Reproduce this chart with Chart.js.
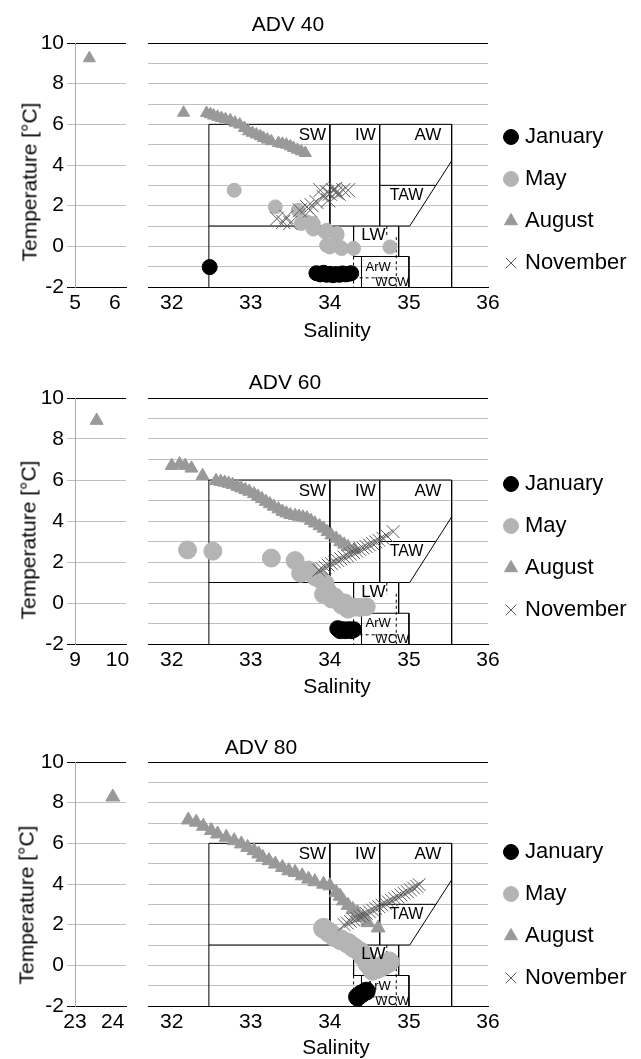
<!DOCTYPE html>
<html>
<head>
<meta charset="utf-8">
<script src="https://cdn.jsdelivr.net/npm/chart.js@4.4.1/dist/chart.umd.min.js"></script>
<style>
  body { margin: 0; background: #fff; font-family: Arial, 'Liberation Sans', sans-serif; }
  #page { position: relative; width: 641px; height: 1059px; overflow: hidden; }
  #page canvas { position: absolute; }
  .lbl { position: absolute; font-size: 21px; line-height: 1; color: #000; white-space: nowrap; transform: translate(-50%, -50%); }
  .lbl.rot { transform: translate(-50%, -50%) rotate(-90deg); }
</style>
</head>
<body>
<div id="page"></div>
<script>
const FONT = "Arial, 'Liberation Sans', sans-serif";
Chart.defaults.font.family = FONT;
Chart.defaults.color = '#000';

// [salinity, temperature] pairs
const adv40January = [[32.48,-1.02],[33.83,-1.32],[33.88,-1.38],[33.92,-1.3],[33.96,-1.4],[34.0,-1.35],[34.04,-1.42],[34.08,-1.36],[34.12,-1.4],[34.16,-1.33],[34.2,-1.38],[34.24,-1.35],[34.27,-1.32]];
const adv40May = [[32.79,2.76],[33.31,1.94],[33.6,1.77],[33.64,1.12],[33.71,1.2],[33.79,1.12],[33.79,0.85],[33.94,0.71],[33.96,0.79],[34.09,0.54],[34.09,0.63],[33.96,0.05],[34.0,-0.03],[34.13,-0.05],[34.15,-0.11],[34.3,-0.1],[34.76,-0.03]];
const adv40August = [[5.36,9.25],[32.15,6.57],[32.44,6.56],[32.49,6.5],[32.53,6.43],[32.58,6.37],[32.63,6.31],[32.68,6.25],[32.74,6.2],[32.8,6.08],[32.86,5.99],[32.92,5.82],[32.97,5.66],[33.02,5.58],[33.07,5.5],[33.12,5.42],[33.16,5.33],[33.21,5.25],[33.26,5.17],[33.35,5.08],[33.4,5.04],[33.45,5.0],[33.5,4.92],[33.54,4.84],[33.59,4.75],[33.64,4.67],[33.69,4.59]];
const adv40November = [[33.33,1.36],[33.41,1.2],[33.45,1.44],[33.5,1.15],[33.62,1.77],[33.71,1.94],[33.75,1.77],[33.77,2.02],[33.83,2.18],[33.88,2.76],[33.92,2.43],[33.96,2.67],[33.98,2.26],[34.0,2.59],[34.04,2.76],[34.07,2.82],[34.08,2.65],[34.11,2.59],[34.17,2.76],[34.23,2.76]];

const adv60January = [[34.1,-1.25],[34.13,-1.35],[34.17,-1.3],[34.2,-1.35],[34.24,-1.3],[34.27,-1.35],[34.3,-1.3]];
const adv60May = [[32.2,2.59],[32.52,2.53],[33.26,2.19],[33.56,2.07],[33.63,1.45],[33.68,1.55],[33.73,1.61],[33.81,1.29],[33.86,1.2],[33.9,1.1],[33.94,0.95],[33.92,0.42],[33.97,0.6],[34.02,0.2],[34.06,0.3],[34.1,0.12],[34.15,-0.1],[34.19,0.0],[34.23,-0.3],[34.31,-0.2],[34.38,-0.22],[34.46,-0.18]];
const adv60August = [[9.51,8.9],[32.0,6.7],[32.1,6.78],[32.17,6.7],[32.25,6.57],[32.39,6.21],[32.56,5.96],[32.62,5.92],[32.67,5.88],[32.72,5.83],[32.77,5.77],[32.83,5.68],[32.88,5.6],[32.93,5.52],[32.98,5.44],[33.04,5.32],[33.09,5.2],[33.14,5.08],[33.19,4.95],[33.24,4.83],[33.29,4.71],[33.35,4.58],[33.4,4.46],[33.45,4.38],[33.5,4.3],[33.56,4.26],[33.61,4.22],[33.66,4.18],[33.71,4.14],[33.76,4.02],[33.81,3.89],[33.87,3.76],[33.92,3.64],[33.97,3.47],[34.02,3.31],[34.08,3.15],[34.13,2.98],[34.18,2.86],[34.23,2.74],[34.31,2.62]];
const adv60November = [[33.86,1.6],[33.9,1.68],[33.94,1.75],[33.98,1.84],[34.02,1.92],[34.06,2.0],[34.1,2.07],[34.14,2.15],[34.18,2.24],[34.22,2.31],[34.26,2.38],[34.3,2.46],[34.34,2.53],[34.38,2.6],[34.42,2.68],[34.46,2.75],[34.5,2.83],[34.54,2.9],[34.58,2.98],[34.62,3.06],[34.67,3.16],[34.72,3.28],[34.8,3.48]];

const adv80January = [[34.35,-1.55],[34.4,-1.4],[34.46,-1.27]];
const adv80May = [[33.92,1.82],[33.99,1.62],[34.06,1.41],[34.14,1.25],[34.23,1.08],[34.3,0.88],[34.38,0.67],[34.43,0.4],[34.48,0.09],[34.54,-0.24],[34.6,-0.15],[34.65,-0.07],[34.7,0.05],[34.75,0.17]];
const adv80August = [[24.0,8.28],[32.21,7.15],[32.31,7.04],[32.4,6.84],[32.5,6.63],[32.58,6.46],[32.69,6.3],[32.79,6.13],[32.88,5.97],[32.96,5.8],[33.04,5.64],[33.1,5.48],[33.15,5.31],[33.23,5.15],[33.31,4.98],[33.4,4.81],[33.48,4.65],[33.56,4.57],[33.65,4.4],[33.73,4.24],[33.81,4.11],[33.92,3.99],[34.0,3.91],[34.08,3.58],[34.13,3.4],[34.17,3.17],[34.23,2.95],[34.29,2.75],[34.35,2.59],[34.42,2.35],[34.48,2.1],[34.61,1.84]];
const adv80November = [[34.18,2.0],[34.22,2.08],[34.26,2.16],[34.3,2.24],[34.34,2.31],[34.38,2.4],[34.42,2.47],[34.46,2.56],[34.5,2.63],[34.54,2.72],[34.58,2.8],[34.62,2.88],[34.66,2.96],[34.7,3.04],[34.74,3.12],[34.78,3.2],[34.82,3.29],[34.86,3.37],[34.9,3.46],[34.94,3.54],[34.98,3.62],[35.02,3.71],[35.06,3.8],[35.1,3.88],[35.13,3.97]];

const monthNames = ['January', 'May', 'August', 'November'];
const monthColors = ['#000000', '#b4b4b4', '#999999', '#595959'];
const monthStyles = ['circle', 'circle', 'triangle', 'crossRot'];

// water mass boundaries as [S1, T1, S2, T2]
const massLines = [
  [32.47,-2, 32.47,6], [32.47,6, 35.54,6], [35.54,6, 35.54,-2],
  [32.47,1, 35.01,1], [34.0,6, 34.0,1], [34.63,6, 34.63,1],
  [34.63,3, 35.34,3], [35.01,1, 35.54,4.2],
  [34.3,1, 34.3,-0.5], [34.87,1, 34.87,-0.5], [34.3,-0.5, 35.0,-0.5],
  [34.4,-0.5, 34.4,-2], [35.0,-0.5, 35.0,-2]
];
const massDashed = [
  [34.3,-0.5, 34.3,-2], [34.72,1, 34.72,0.4], [34.84,0.45, 34.84,-2], [34.3,-1.55, 34.84,-1.55]
];
const massNames = ['SW', 'IW', 'AW', 'TAW', 'LW', 'ArW', 'WCW'];
const massSalinity = [33.78, 34.45, 35.24, 34.97, 34.55, 34.61, 34.79];
const massTemp = [5.45, 5.45, 5.45, 2.5, 0.54, -1.02, -1.79];
const massFont = [17, 17, 17, 16, 17, 13, 13];

const panels = [
  { title: 'ADV 40', months: [adv40January, adv40May, adv40August, adv40November], leftRange: [5, 6.28],
    radius: [7.5, 7, 7, 10], top: 43, height: 244, legendGap: 63, titleAt: [288, 23], yTitleAt: [29, 182], xTitleAt: [337, 329] },
  { title: 'ADV 60', months: [adv60January, adv60May, adv60August, adv60November], leftRange: [9, 10.2],
    radius: [8, 9, 7.5, 9], top: 398, height: 246, legendGap: 55, titleAt: [285, 381], yTitleAt: [28, 540], xTitleAt: [337, 685] },
  { title: 'ADV 80', months: [adv80January, adv80May, adv80August, adv80November], leftRange: [23, 24.35],
    radius: [9, 10, 8, 9], top: 762, height: 244, legendGap: 59, titleAt: [261, 746], yTitleAt: [26, 905], xTitleAt: [336, 1046] }
];

const page = document.getElementById('page');

function toPoints(pairs){ return pairs.map(([x, y]) => ({x, y})); }
function segPoints(segs){
  const pts = [];
  segs.forEach(([x1, y1, x2, y2]) => pts.push({x:x1, y:y1}, {x:x2, y:y2}, {x:null, y:null}));
  return pts;
}
function gridColor(c){
  return c.tick && (c.tick.value === 10 || c.tick.value === -2) ? '#000' : '#bfbfbf';
}
function addCanvas(left, top, w, h){
  const cv = document.createElement('canvas');
  cv.width = w; cv.height = h;
  cv.style.left = left + 'px'; cv.style.top = top + 'px';
  page.appendChild(cv);
  return cv;
}
function addText(txt, [cx, cy], rotate){
  const d = document.createElement('div');
  d.className = rotate ? 'lbl rot' : 'lbl';
  d.textContent = txt;
  d.style.left = cx + 'px'; d.style.top = cy + 'px';
  page.appendChild(d);
}
// shift the plot edges to given canvas x positions via the layout padding
function pinArea(chart, left, right){
  const pad = chart.config.options.layout.padding;
  const dl = left - chart.chartArea.left;
  const dr = chart.chartArea.right - right;
  if (Math.abs(dl) > 0.1 || Math.abs(dr) > 0.1){
    pad.left += dl;
    pad.right += dr;
    chart.update();
  }
}
function monthSets(p){
  return p.months.map((pairs, i) => ({
    label: monthNames[i],
    data: toPoints(pairs),
    pointStyle: monthStyles[i],
    backgroundColor: monthColors[i],
    borderColor: monthColors[i],
    borderWidth: 1,
    pointRadius: p.radius[i],
    order: 4 - i
  }));
}

const massLabelPlugin = {
  id: 'massLabels',
  afterDatasetsDraw(chart){
    const {ctx, scales:{x, y}} = chart;
    ctx.save();
    ctx.fillStyle = '#000';
    ctx.textAlign = 'center';
    ctx.textBaseline = 'middle';
    massNames.forEach((name, i) => {
      ctx.font = massFont[i] + 'px ' + FONT;
      ctx.fillText(name, x.getPixelForValue(massSalinity[i]), y.getPixelForValue(massTemp[i]));
    });
    ctx.restore();
  }
};

panels.forEach(p => {
  const leftCanvas = addCanvas(0, p.top - 14, 130, p.height + 54);
  const mainCanvas = addCanvas(148, p.top - 10, 493, p.height + 50);

  const left = new Chart(leftCanvas, {
    type: 'scatter',
    data: { datasets: monthSets(p) },
    options: {
      responsive: false, animation: false, events: [],
      layout: { autoPadding: false, padding: { top: 14, right: 4, left: 0, bottom: 0 } },
      plugins: { legend: { display: false }, tooltip: { enabled: false } },
      scales: {
        x: {
          min: p.leftRange[0], max: p.leftRange[1],
          ticks: { stepSize: 1, includeBounds: false, font: { size: 21 }, padding: 4, maxRotation: 0 },
          grid: { display: false, drawTicks: false },
          border: { color: '#000' },
          afterFit: s => { s.height = 40; s.paddingLeft = 0; s.paddingRight = 0; }
        },
        y: {
          min: -2, max: 10,
          ticks: { stepSize: 1, includeBounds: false, font: { size: 21 }, padding: 3, callback: v => v % 2 === 0 ? v : '' },
          grid: { color: gridColor, tickLength: 8 },
          border: { color: '#aaa' },
          afterFit: s => { s.width = 75; s.paddingTop = 0; s.paddingBottom = 0; }
        }
      }
    }
  });
  pinArea(left, 75, 126);

  const main = new Chart(mainCanvas, {
    type: 'scatter',
    data: {
      datasets: [
        ...monthSets(p),
        { label: 'boxes', data: segPoints(massLines), showLine: true, pointRadius: 0,
          borderColor: '#000', backgroundColor: '#000', borderWidth: 1, order: 5 },
        { label: 'dashed', data: segPoints(massDashed), showLine: true, pointRadius: 0,
          borderColor: '#000', backgroundColor: '#000', borderWidth: 1, borderDash: [3, 3], order: 6 }
      ]
    },
    plugins: [massLabelPlugin],
    options: {
      responsive: false, animation: false, events: [],
      layout: { autoPadding: false, padding: { top: 10, right: 0, left: 0, bottom: 0 } },
      plugins: {
        tooltip: { enabled: false },
        legend: {
          position: 'right', align: 'start', maxWidth: 220,
          title: { display: true, text: '', font: { size: 1, lineHeight: 1 }, padding: { top: 0, bottom: p.legendGap - 1 } },
          labels: {
            usePointStyle: true, boxWidth: 6, boxHeight: 10.6, padding: 20,
            font: { size: 22 }, color: '#000',
            filter: item => item.datasetIndex < 4,
            sort: (a, b) => a.datasetIndex - b.datasetIndex
          }
        }
      },
      scales: {
        x: {
          min: 31.7, max: 36,
          ticks: { stepSize: 1, includeBounds: false, font: { size: 21 }, padding: 4, maxRotation: 0 },
          grid: { display: false, drawTicks: false },
          border: { color: '#000' },
          afterFit: s => { s.height = 40; s.paddingLeft = 0; }
        },
        y: {
          min: -2, max: 10,
          ticks: { display: false, stepSize: 1 },
          grid: { color: gridColor, drawTicks: false },
          border: { display: false },
          afterFit: s => { s.width = 0; }
        }
      }
    }
  });
  pinArea(main, 0, 340);

  addText(p.title, p.titleAt);
  addText('Temperature [°C]', p.yTitleAt, true);
  addText('Salinity', p.xTitleAt);
});
</script>
</body>
</html>
